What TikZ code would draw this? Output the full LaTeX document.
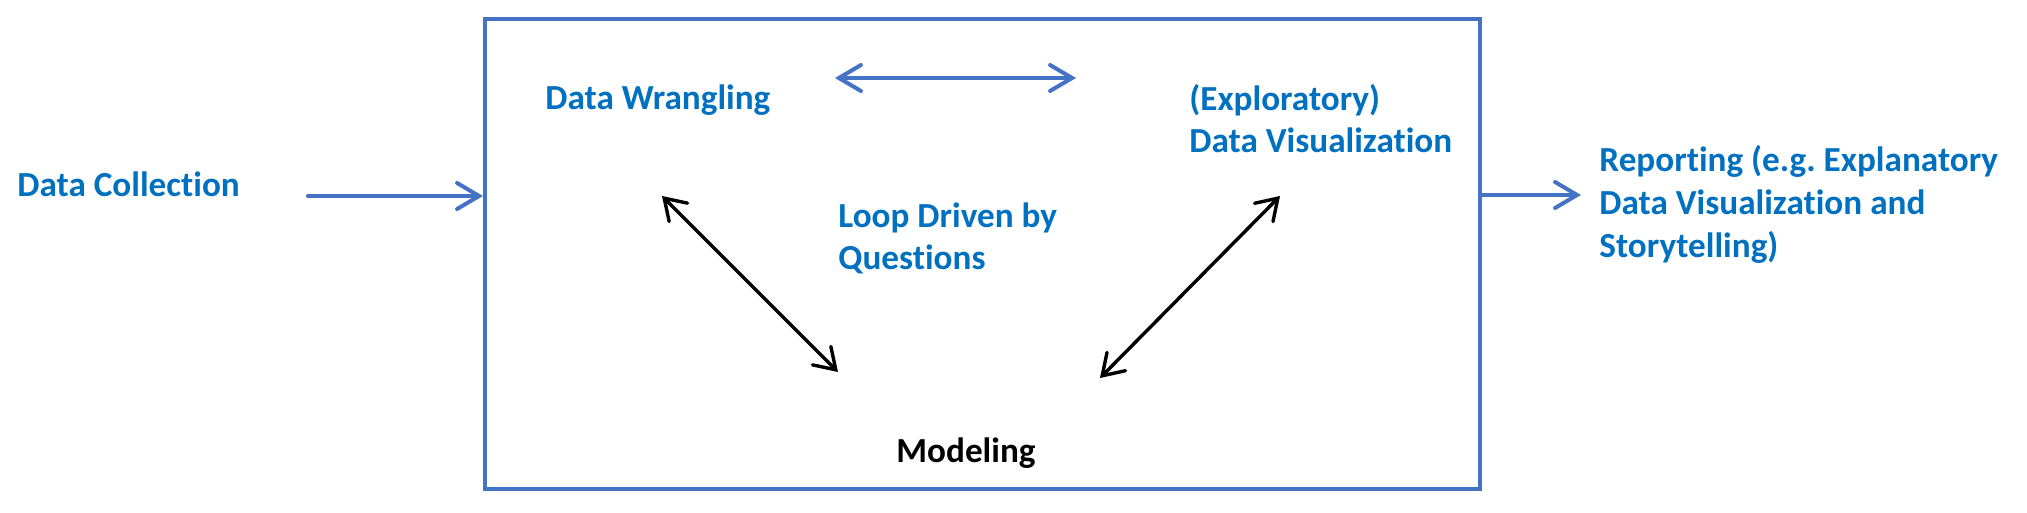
\documentclass[tikz,border=0pt]{standalone}
\usepackage{fontspec}
\setmainfont{Carlito}[Ligatures=NoCommon]
\usetikzlibrary{arrows.meta}
\definecolor{boxblue}{RGB}{68,114,196}
\definecolor{textblue}{RGB}{0,112,192}
\frenchspacing
\tikzset{
	stagetext/.style={anchor=base west, inner sep=0, text=textblue, align=left, font=\fontsize{17.6}{21.4}\selectfont\bfseries},
	bluearrow/.style={draw=boxblue, line width=2pt, line cap=round, -{Straight Barb[length=11pt, width=13pt, line cap=round]}},
	bluearrows/.style={bluearrow, {Straight Barb[length=11pt, width=13pt, line cap=round]}-{Straight Barb[length=11pt, width=13pt, line cap=round]}},
	loopline/.style={draw=black, line width=1.7pt, line cap=round, {Straight Barb[length=10pt, width=13pt, line cap=round]}-{Straight Barb[length=10pt, width=13pt, line cap=round]}}
}
\begin{document}
\begin{tikzpicture}[x=0.5pt, y=-0.5pt]
	\useasboundingbox (0,0) rectangle (2027,513);
	\node (loop) at (982.5,254) [draw=boxblue, line width=2pt, inner sep=0, minimum width=497.5pt, minimum height=235pt] {};
	\node (collect) at (17,197) [stagetext] {Data Collection};
	\node (wrangle) at (545,110) [stagetext] {Data Wrangling};
	\node (explore) at (1189,153) [stagetext] {(Exploratory)\\Data Visualization};
	\node (question) at (838,270) [stagetext] {Loop Driven by\\Questions};
	\node (model) at (896,462) [stagetext, text=black] {Modeling};
	\node (report) at (1599,257) [stagetext] {Reporting (e.g. Explanatory\\Data Visualization and\\Storytelling)};
	\coordinate (collect-out) at (308,196);
	\coordinate (report-in) at (1581,195);
	\coordinate (wrangle-r) at (835,78);
	\coordinate (explore-l) at (1076,78);
	\coordinate (wrangle-d) at (662,196);
	\coordinate (model-l) at (838,372);
	\coordinate (explore-d) at (1280,196);
	\coordinate (model-r) at (1100,378);
	\draw[bluearrow] (collect-out) -- (collect-out -| loop.west);
	\draw[bluearrow] (loop.east |- report-in) -- (report-in);
	\draw[bluearrows] (wrangle-r) -- (explore-l);
	\draw[loopline] (wrangle-d) -- (model-l);
	\draw[loopline] (explore-d) -- (model-r);
\end{tikzpicture}
\end{document}
